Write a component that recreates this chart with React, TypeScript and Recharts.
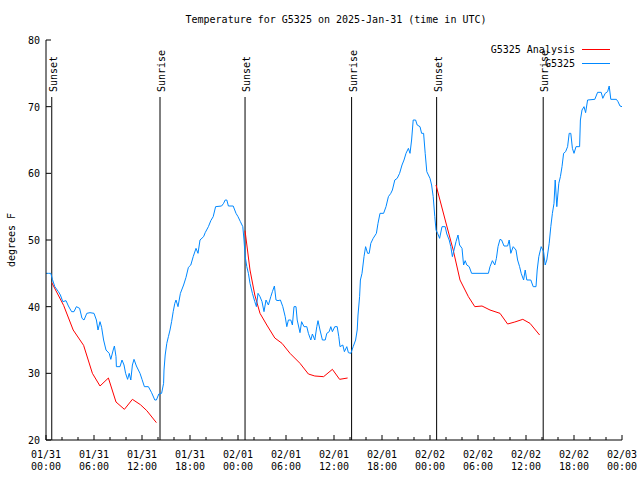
import React from 'react';
import { LineChart, Line, XAxis, YAxis, ReferenceLine, Legend } from 'recharts';

// Observation (G5325), hours since 2025-01-31 00:00 UTC
const obsHours = [
  0.0, 0.3, 0.6, 0.8, 1.1, 1.55, 1.8, 2.1, 2.5, 2.8, 3.2, 3.5, 3.8, 4.2, 4.5, 4.75, 5.1, 5.5, 6.0, 6.3,
  6.5, 6.75, 6.95, 7.2, 7.5, 7.9, 8.1, 8.4, 8.55, 8.75, 8.8, 9.25, 9.5, 9.75, 9.95, 10.2, 10.4, 10.6, 10.8, 11.0,
  11.3, 11.75, 12.0, 12.3, 12.8, 13.2, 13.6, 13.8, 14.1, 14.45, 14.7, 14.75, 14.9, 15.1, 15.3, 15.5, 15.7, 15.9, 16.1, 16.25,
  16.5, 16.8, 17.2, 17.5, 17.8, 18.1, 18.4, 18.75, 19.0, 19.25, 19.7, 19.9, 20.3, 20.6, 20.9, 21.2, 21.95, 22.2, 22.4, 22.6,
  22.8, 23.4, 23.75, 24.0, 24.3, 24.6, 24.75, 24.9, 25.1, 25.3, 25.5, 25.8, 26.1, 26.3, 26.5, 26.75, 27.0, 27.25, 27.5, 27.8,
  28.1, 28.3, 28.55, 28.75, 29.0, 29.3, 29.6, 29.9, 30.1, 30.3, 30.6, 30.8, 31.0, 31.25, 31.4, 31.75, 31.95, 32.25, 32.6, 32.8,
  33.1, 33.3, 33.6, 33.85, 34.0, 34.25, 34.55, 34.9, 35.1, 35.4, 35.6, 35.8, 36.1, 36.4, 36.6, 36.75, 37.1, 37.3, 37.6, 37.8,
  38.1, 38.4, 38.7, 38.9, 39.0, 39.2, 39.3, 39.5, 39.75, 39.95, 40.2, 40.4, 40.6, 40.9, 41.3, 41.5, 41.75, 42.2, 42.5, 42.8,
  43.1, 43.3, 43.6, 43.9, 44.2, 44.5, 44.75, 45.0, 45.3, 45.5, 45.7, 45.9, 46.2, 46.4, 46.75, 46.95, 47.2, 47.4, 47.6, 47.8,
  48.0, 48.2, 48.4, 48.6, 48.75, 48.95, 49.2, 49.5, 49.9, 50.1, 50.4, 50.6, 50.8, 51.0, 51.25, 51.5, 51.7, 52.0, 52.2, 52.4,
  52.6, 52.9, 53.2, 55.3, 55.5, 55.8, 56.1, 56.3, 56.5, 56.75, 56.95, 57.25, 57.7, 57.9, 58.1, 58.4, 58.75, 58.95, 59.2, 59.4,
  59.7, 59.9, 60.1, 60.6, 60.9, 61.25, 61.4, 61.6, 61.9, 62.2, 62.4, 62.6, 62.9, 63.1, 63.3, 63.5, 63.65, 63.85, 64.1, 64.3,
  64.5, 64.7, 64.95, 65.2, 65.4, 65.6, 65.8, 66.0, 66.25, 66.7, 66.8, 67.0, 67.25, 67.45, 67.7, 68.6, 68.95, 69.4, 69.6, 69.9,
  70.2, 70.4, 70.6, 71.3, 71.5, 71.75, 72.0,
];
const obsTemps = [
  45.0, 45.0, 45.0, 44.1, 43.0, 42.25, 41.75, 40.75, 40.9, 40.1, 39.25, 39.25, 40.0, 39.75, 38.25, 38.0, 39.0, 39.1, 39.0, 38.0,
  36.5, 37.75, 36.9, 35.0, 33.5, 33.0, 32.1, 33.5, 34.1, 32.5, 31.0, 31.0, 32.0, 31.25, 30.0, 29.1, 30.0, 29.0, 31.25, 32.1,
  31.1, 30.0, 29.1, 28.0, 28.0, 27.1, 26.0, 26.0, 26.9, 27.0, 28.5, 30.5, 32.75, 34.5, 35.5, 36.5, 37.75, 39.25, 40.5, 41.0,
  40.0, 42.0, 43.25, 44.4, 45.9, 46.25, 47.5, 48.75, 48.0, 50.0, 50.5, 51.1, 52.0, 52.9, 53.5, 55.0, 55.1, 55.5, 56.0, 56.0,
  55.1, 55.1, 54.0, 53.5, 52.75, 52.0, 50.0, 47.5, 46.0, 45.0, 43.5, 42.0, 40.75, 40.0, 42.0, 41.5, 40.75, 39.25, 41.0, 40.25,
  41.5, 42.25, 43.1, 41.0, 40.9, 41.0, 40.0, 38.5, 37.0, 38.0, 38.0, 37.25, 40.0, 40.0, 38.0, 36.1, 37.75, 37.0, 37.0, 36.0,
  35.0, 35.9, 35.0, 37.0, 37.9, 36.5, 35.0, 35.0, 36.0, 36.25, 37.0, 36.25, 37.0, 37.0, 35.5, 34.0, 34.25, 33.25, 34.0, 33.1,
  33.0, 34.0, 35.0, 36.5, 38.75, 41.5, 44.0, 45.0, 47.5, 49.0, 48.0, 48.0, 49.5, 50.25, 51.0, 52.5, 54.0, 54.0, 55.0, 56.5,
  57.0, 57.5, 59.0, 59.25, 60.0, 61.25, 62.0, 63.0, 63.75, 63.0, 65.0, 68.0, 68.0, 67.25, 67.0, 66.0, 66.0, 63.0, 60.25, 59.75,
  59.25, 58.25, 56.5, 53.5, 51.5, 51.0, 50.25, 52.0, 52.0, 50.9, 50.0, 49.0, 47.5, 48.5, 49.75, 50.75, 49.25, 48.75, 46.25, 46.9,
  46.25, 46.0, 45.0, 45.0, 46.0, 46.9, 46.25, 47.25, 49.0, 50.1, 50.0, 49.1, 49.1, 50.0, 48.0, 49.0, 48.5, 47.0, 46.0, 45.0,
  44.0, 45.5, 44.0, 44.0, 43.0, 43.0, 45.5, 47.5, 49.0, 48.25, 46.25, 47.0, 49.5, 52.0, 54.0, 55.5, 59.0, 55.0, 58.5, 59.5,
  61.0, 63.0, 63.25, 64.0, 66.0, 66.0, 63.75, 63.0, 64.0, 64.0, 68.0, 69.5, 70.0, 69.1, 71.0, 71.1, 72.15, 72.15, 71.25, 72.0,
  72.25, 73.1, 71.1, 71.1, 70.75, 70.1, 70.0,
];

// Analysis (G5325 Analysis), night-time segments separated by null
const analysisHours = [
  0.72, 2.2, 3.4, 4.7, 5.8, 6.75, 7.8, 8.75, 9.8, 10.8, 11.8, 12.6, 13.8,
  14.0,
  24.88, 25.5, 26.1, 26.75, 27.6, 28.6, 29.5, 30.5, 31.75, 32.8, 33.6, 34.7, 35.8, 36.7, 37.7,
  38.0,
  48.75, 49.9, 50.9, 51.75, 52.8, 53.6, 54.5, 55.5, 56.75, 57.7, 58.6, 59.6, 60.5, 61.7,
];
const analysisTemps: (number | null)[] = [
  43.6, 40.2, 36.5, 34.2, 30.0, 28.1, 29.3, 25.7, 24.6, 26.1, 25.3, 24.4, 22.6,
  null,
  51.4, 45.5, 41.75, 39.0, 37.25, 35.3, 34.5, 33.0, 31.5, 29.9, 29.6, 29.5, 30.6, 29.1, 29.3,
  null,
  58.25, 53.0, 48.5, 44.0, 41.5, 40.0, 40.1, 39.5, 39.0, 37.4, 37.7, 38.1, 37.5, 35.75,
];

// Sun events
const eventHours = [0.72, 14.25, 24.88, 38.2, 48.83, 62.15];
const eventLabels = ['Sunset', 'Sunrise', 'Sunset', 'Sunrise', 'Sunset', 'Sunrise'];

// Axis ticks
const xTickHours = [0, 6, 12, 18, 24, 30, 36, 42, 48, 54, 60, 66, 72];
const xTickDates = ['01/31', '01/31', '01/31', '01/31', '02/01', '02/01', '02/01', '02/01', '02/02', '02/02', '02/02', '02/02', '02/03'];
const xTickTimes = ['00:00', '06:00', '12:00', '18:00', '00:00', '06:00', '12:00', '18:00', '00:00', '06:00', '12:00', '18:00', '00:00'];
const xMinorTicks = [0, 2, 4, 6, 8, 10, 12, 14, 16, 18, 20, 22, 24, 26, 28, 30, 32, 34, 36, 38, 40, 42, 44, 46, 48, 50, 52, 54, 56, 58, 60, 62, 64, 66, 68, 70, 72];
const yTicks = [20, 30, 40, 50, 60, 70, 80];

const seriesNames = ['G5325 Analysis', 'G5325'];

const obsData = obsHours.map((h, i) => ({ h, v: obsTemps[i] }));
const analysisData = analysisHours.map((h, i) => ({ h, v: analysisTemps[i] }));

const FONT = '"DejaVu Sans Mono", monospace';
const BLUE = '#0088ff';
const RED = '#ff0000';
const seriesColors = [RED, BLUE];

const BottomTick = (props: any) => {
  const { x, y, payload } = props;
  const h = payload.value;
  const idx = xTickHours.indexOf(h);
  const major = idx >= 0;
  return (
    <g>
      <line x1={x} x2={x} y1={y} y2={y - (major ? 5 : 3)} stroke="#000" />
      {major && (
        <text x={x} y={y + 18} textAnchor="middle" fontSize={10} fontFamily={FONT} fill="#000">
          {xTickDates[idx]}
        </text>
      )}
      {major && (
        <text x={x} y={y + 30} textAnchor="middle" fontSize={10} fontFamily={FONT} fill="#000">
          {xTickTimes[idx]}
        </text>
      )}
    </g>
  );
};

const TopTick = (props: any) => {
  const { x, y, payload } = props;
  const major = xTickHours.indexOf(payload.value) >= 0;
  return <line x1={x} x2={x} y1={y} y2={y + (major ? 5 : 3)} stroke="#000" />;
};

const LeftTick = (props: any) => {
  const { x, y, payload } = props;
  return (
    <g>
      <line x1={x} x2={x + 5} y1={y} y2={y} stroke="#000" />
      <text x={x - 6} y={y + 4} textAnchor="end" fontSize={10} fontFamily={FONT} fill="#000">
        {payload.value}
      </text>
    </g>
  );
};

const RightTick = (props: any) => {
  const { x, y } = props;
  return <line x1={x} x2={x - 5} y1={y} y2={y} stroke="#000" />;
};

const makeEventShape = (label: string) => (props: any) => {
  const { x1, y1, y2 } = props;
  const top = Math.min(y1, y2);
  const bottom = Math.max(y1, y2);
  return (
    <g>
      <line x1={x1} x2={x1} y1={top + 57} y2={bottom} stroke="#000" strokeWidth={1} />
      <text
        transform={`translate(${x1 + 5},${top + 52}) rotate(-90)`}
        textAnchor="start"
        fontSize={10}
        fontFamily={FONT}
        fill="#000"
      >
        {label}
      </text>
    </g>
  );
};

const LegendContent = () => (
  <svg width={180} height={28} style={{ display: 'block', overflow: 'visible' }}>
    {seriesNames.map((name, i) => (
      <g key={name}>
        <text x={145} y={10.5 + i * 14} textAnchor="end" fontSize={10} fontFamily={FONT} fill="#000">
          {name}
        </text>
        <rect x={152} y={7 + i * 14} width={28} height={1} fill={seriesColors[i]} />
      </g>
    ))}
  </svg>
);

const YLabel = (props: any) => {
  const vb = props.viewBox || { x: 0, y: 40, width: 46, height: 400 };
  const cx = vb.x + 11;
  const cy = vb.y + vb.height / 2;
  return (
    <text
      transform={`translate(${cx},${cy}) rotate(-90)`}
      textAnchor="middle"
      dominantBaseline="central"
      fontSize={10}
      fontFamily={FONT}
      fill="#000"
    >
      degrees F
    </text>
  );
};

export default function App() {
  return (
    <div style={{ position: 'absolute', left: 0, top: 0, width: 640, height: 480, background: '#fff' }}>
      <svg width={640} height={40} style={{ position: 'absolute', left: 0, top: 0 }}>
        <text x={336} y={23} textAnchor="middle" fontSize={10} fontFamily={FONT} fill="#000">
          Temperature for G5325 on 2025-Jan-31 (time in UTC)
        </text>
      </svg>
      <LineChart width={640} height={480} margin={{ top: 40, right: 18, bottom: 0, left: 0 }}>
        <XAxis
          dataKey="h"
          type="number"
          domain={[0, 72]}
          ticks={xMinorTicks}
          interval={0}
          height={40}
          tickSize={0}
          tickMargin={0}
          tickLine={false}
          tick={BottomTick}
          axisLine={{ stroke: '#000' }}
          allowDataOverflow
        />
        <XAxis
          xAxisId="top"
          orientation="top"
          dataKey="h"
          type="number"
          domain={[0, 72]}
          ticks={xMinorTicks}
          interval={0}
          height={0}
          tickSize={0}
          tickMargin={0}
          tickLine={false}
          tick={TopTick}
          axisLine={{ stroke: '#000' }}
          allowDataOverflow
        />
        <YAxis
          type="number"
          domain={[20, 80]}
          ticks={yTicks}
          interval={0}
          width={46}
          tickSize={0}
          tickMargin={0}
          tickLine={false}
          tick={LeftTick}
          axisLine={{ stroke: '#000' }}
          label={<YLabel />}
          allowDataOverflow
        />
        <YAxis
          yAxisId="right"
          orientation="right"
          type="number"
          domain={[20, 80]}
          ticks={yTicks}
          interval={0}
          width={0}
          tickSize={0}
          tickMargin={0}
          tickLine={false}
          tick={RightTick}
          axisLine={{ stroke: '#000' }}
          allowDataOverflow
        />
        {eventHours.map((h, i) => (
          <ReferenceLine key={`ev-${i}`} x={h} stroke="#000" shape={makeEventShape(eventLabels[i])} />
        ))}
        <Line
          data={analysisData}
          dataKey="v"
          stroke={RED}
          strokeWidth={1}
          dot={false}
          activeDot={false}
          connectNulls={false}
          isAnimationActive={false}
          name={seriesNames[0]}
        />
        <Line
          data={obsData}
          dataKey="v"
          stroke={BLUE}
          strokeWidth={1}
          dot={false}
          activeDot={false}
          isAnimationActive={false}
          name={seriesNames[1]}
        />
        <Legend
          layout="vertical"
          align="center"
          verticalAlign="middle"
          content={<LegendContent />}
          wrapperStyle={{ position: 'absolute', top: 42, left: 430, width: 180, height: 28 }}
        />
      </LineChart>
    </div>
  );
}
